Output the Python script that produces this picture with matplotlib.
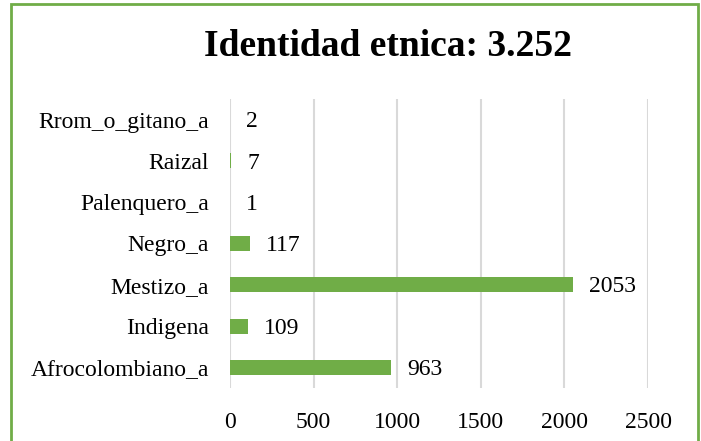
import matplotlib
matplotlib.use("Agg")
import matplotlib.pyplot as plt
from matplotlib.patches import Rectangle

categories = ["Afrocolombiano_a", "Indigena", "Mestizo_a", "Negro_a",
              "Palenquero_a", "Raizal", "Rrom_o_gitano_a"]
values = [963, 109, 2053, 117, 1, 7, 2]
title = "Identidad etnica: 3.252"
xticks = [0, 500, 1000, 1500, 2000, 2500]

green = "#70AD47"
W, H = 701, 441
fig = plt.figure(figsize=(W / 100, H / 100), dpi=100)
plt.rcParams['font.family'] = ['Liberation Serif', 'DejaVu Serif']

ax = fig.add_axes([230 / W, 1 - 388 / H, (648 - 230) / W, (388 - 99) / H])
y = list(range(len(categories)))
ax.barh(y, values, height=0.36, color=green, zorder=3)
ax.set_xlim(0, 2500)
ax.set_ylim(-0.5, len(categories) - 0.5)
ax.set_yticks(y)
ax.set_yticklabels(categories, fontsize=17)
ax.set_xticks(xticks)
ax.set_xticklabels([str(t) for t in xticks], fontsize=17)
ax.tick_params(length=0)
ax.tick_params(axis='y', pad=15)
ax.tick_params(axis='x', pad=17)
for s in ax.spines.values():
    s.set_visible(False)
ax.grid(axis='x', color="#d9d9d9", linewidth=1.5, zorder=0)
ax.set_axisbelow(True)

for yi, v in zip(y, values):
    ax.annotate(str(v), (v, yi), xytext=(11.5, -1.5), textcoords='offset points',
                va='center', ha='left', fontsize=17, color='black')

fig.text(388.5 / W, 1 - 46 / H, title, ha='center', va='center',
         fontsize=27, fontweight='bold')

rect = Rectangle((11 / W, -0.02), (698 - 11) / W, 1.02 - 4 / H,
                 transform=fig.transFigure, fill=False, edgecolor=green,
                 linewidth=2)
fig.patches.append(rect)

fig.savefig("out.png", dpi=100)
